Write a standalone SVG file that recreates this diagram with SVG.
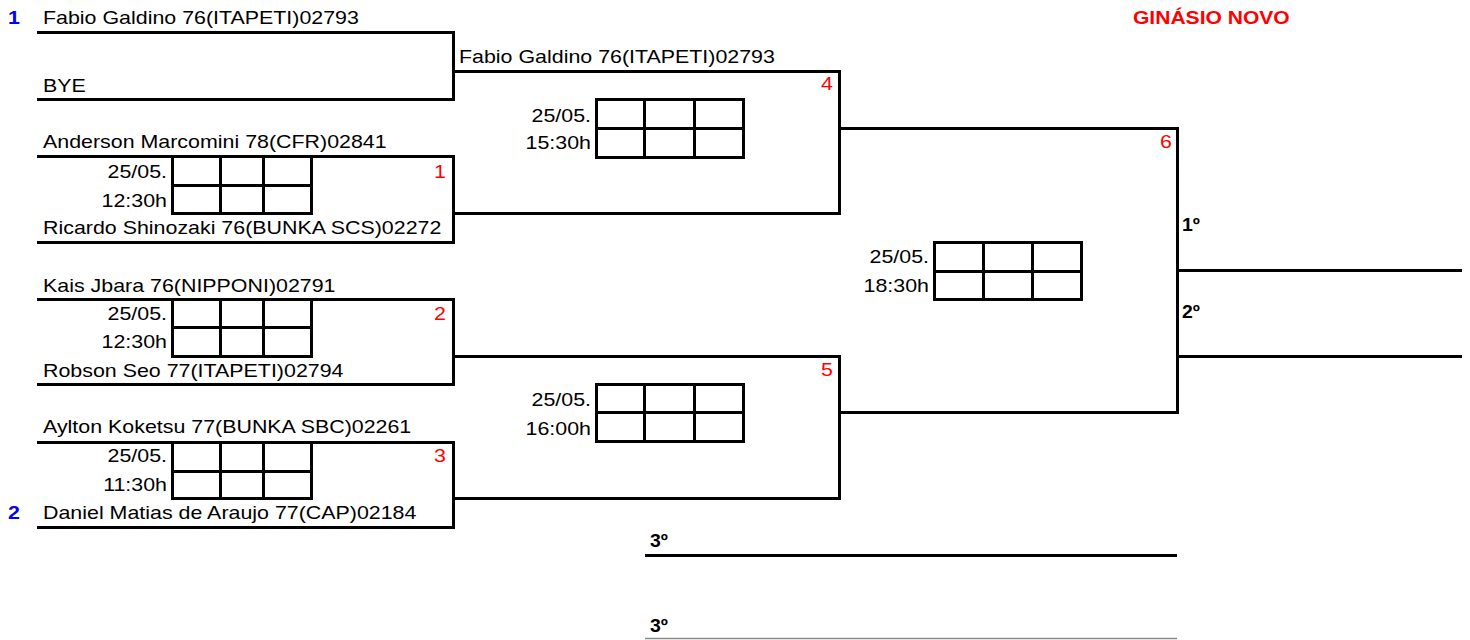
<svg xmlns="http://www.w3.org/2000/svg" width="1470" height="640" viewBox="0 0 1470 640">
<style>
  text { font-family: "Liberation Sans", Arial, sans-serif; font-size: 17.7px; fill: #000; }
  .end { text-anchor: end; }
  .num { fill: #ff0000; }
  .seed { fill: #0000ff; font-weight: bold; }
  .bold { font-weight: bold; }
  .title { fill: #ff0000; font-weight: bold; }
  .ln { fill: none; stroke: #000; stroke-width: 3; }
  .grid { fill: none; stroke: #000; stroke-width: 3; }
</style>
<rect width="1470" height="640" fill="#fff"/>

<g id="connectors">
  <path class="ln" d="M37,32.5 H453.5 V99.5 H37"/>
  <path class="ln" d="M37,156.5 H453.5 V242.5 H37"/>
  <path class="ln" d="M37,299.5 H453.5 V384.5 H37"/>
  <path class="ln" d="M37,442.5 H453.5 V527.5 H37"/>
  <path class="ln" d="M453.5,71.5 H839.5 V213.5 H453.5"/>
  <path class="ln" d="M453.5,356.5 H839.5 V498.5 H453.5"/>
  <path class="ln" d="M839.5,128.5 H1177.5 V412.5 H839.5"/>
  <path class="ln" d="M1177.5,270.5 H1462"/>
  <path class="ln" d="M1177.5,356.5 H1462"/>
  <path class="ln" d="M645,555.5 H1177"/>
  <path d="M645,638.5 H1177" fill="none" stroke="#888" stroke-width="1.5"/>
</g>

<g id="header">
  <text class="title" transform="matrix(1.19,0,0,1,1133,24)">GINÁSIO NOVO</text>
</g>

<g id="player-fabio">
  <text class="seed" transform="matrix(1.21,0,0,1,8,24)">1</text>
  <text transform="matrix(1.21,0,0,1,43,24)">Fabio Galdino 76(ITAPETI)02793</text>
</g>
<g id="player-bye">
  <text transform="matrix(1.21,0,0,1,43,92)">BYE</text>
</g>
<g id="player-anderson">
  <text transform="matrix(1.21,0,0,1,43,148)">Anderson Marcomini 78(CFR)02841</text>
</g>
<g id="player-ricardo">
  <text transform="matrix(1.21,0,0,1,43,234)">Ricardo Shinozaki 76(BUNKA SCS)02272</text>
</g>
<g id="player-kais">
  <text transform="matrix(1.21,0,0,1,43,292)">Kais Jbara 76(NIPPONI)02791</text>
</g>
<g id="player-robson">
  <text transform="matrix(1.21,0,0,1,43,377)">Robson Seo 77(ITAPETI)02794</text>
</g>
<g id="player-aylton">
  <text transform="matrix(1.21,0,0,1,43,433)">Aylton Koketsu 77(BUNKA SBC)02261</text>
</g>
<g id="player-daniel">
  <text class="seed" transform="matrix(1.21,0,0,1,8,519)">2</text>
  <text transform="matrix(1.21,0,0,1,43,519)">Daniel Matias de Araujo 77(CAP)02184</text>
</g>

<g id="match-1">
  <path class="grid" d="M172.5,156.5 H311.5 V213.5 H172.5 Z M172.5,185.5 H311.5 M220.5,156.5 V213.5 M263.5,156.5 V213.5"/>
  <text class="end" transform="matrix(1.21,0,0,1,167,178)">25/05.</text>
  <text class="end" transform="matrix(1.21,0,0,1,167,207)">12:30h</text>
  <text class="end num" transform="matrix(1.21,0,0,1,446,178)">1</text>
</g>
<g id="match-2">
  <path class="grid" d="M172.5,299.5 H311.5 V356.5 H172.5 Z M172.5,327.5 H311.5 M220.5,299.5 V356.5 M263.5,299.5 V356.5"/>
  <text class="end" transform="matrix(1.21,0,0,1,167,320)">25/05.</text>
  <text class="end" transform="matrix(1.21,0,0,1,167,348)">12:30h</text>
  <text class="end num" transform="matrix(1.21,0,0,1,446,320)">2</text>
</g>
<g id="match-3">
  <path class="grid" d="M172.5,442.5 H311.5 V498.5 H172.5 Z M172.5,471.5 H311.5 M220.5,442.5 V498.5 M263.5,442.5 V498.5"/>
  <text class="end" transform="matrix(1.21,0,0,1,167,462)">25/05.</text>
  <text class="end" transform="matrix(1.21,0,0,1,167,491)">11:30h</text>
  <text class="end num" transform="matrix(1.21,0,0,1,446,462)">3</text>
</g>
<g id="match-4">
  <text transform="matrix(1.21,0,0,1,459,63)">Fabio Galdino 76(ITAPETI)02793</text>
  <path class="grid" d="M596.5,99.5 H743.5 V157.5 H596.5 Z M596.5,128.5 H743.5 M644.5,99.5 V157.5 M694.5,99.5 V157.5"/>
  <text class="end" transform="matrix(1.21,0,0,1,591,122)">25/05.</text>
  <text class="end" transform="matrix(1.21,0,0,1,591,149)">15:30h</text>
  <text class="end num" transform="matrix(1.21,0,0,1,833,90)">4</text>
</g>
<g id="match-5">
  <path class="grid" d="M596.5,384.5 H743.5 V441.5 H596.5 Z M596.5,412.5 H743.5 M644.5,384.5 V441.5 M694.5,384.5 V441.5"/>
  <text class="end" transform="matrix(1.21,0,0,1,591,406)">25/05.</text>
  <text class="end" transform="matrix(1.21,0,0,1,591,435)">16:00h</text>
  <text class="end num" transform="matrix(1.21,0,0,1,833,376)">5</text>
</g>
<g id="match-6">
  <path class="grid" d="M934.5,242.5 H1081.5 V299.5 H934.5 Z M934.5,271.5 H1081.5 M983.5,242.5 V299.5 M1032.5,242.5 V299.5"/>
  <text class="end" transform="matrix(1.21,0,0,1,929,263)">25/05.</text>
  <text class="end" transform="matrix(1.21,0,0,1,929,292)">18:30h</text>
  <text class="end num" transform="matrix(1.21,0,0,1,1172,148)">6</text>
</g>

<g id="place-1">
  <text class="bold" transform="matrix(1.1,0,0,1,1182,231)">1º</text>
</g>
<g id="place-2">
  <text class="bold" transform="matrix(1.1,0,0,1,1182,318)">2º</text>
</g>
<g id="place-3a">
  <text class="bold" transform="matrix(1.1,0,0,1,650,547)">3º</text>
</g>
<g id="place-3b">
  <text class="bold" transform="matrix(1.1,0,0,1,650,632)">3º</text>
</g>
</svg>
